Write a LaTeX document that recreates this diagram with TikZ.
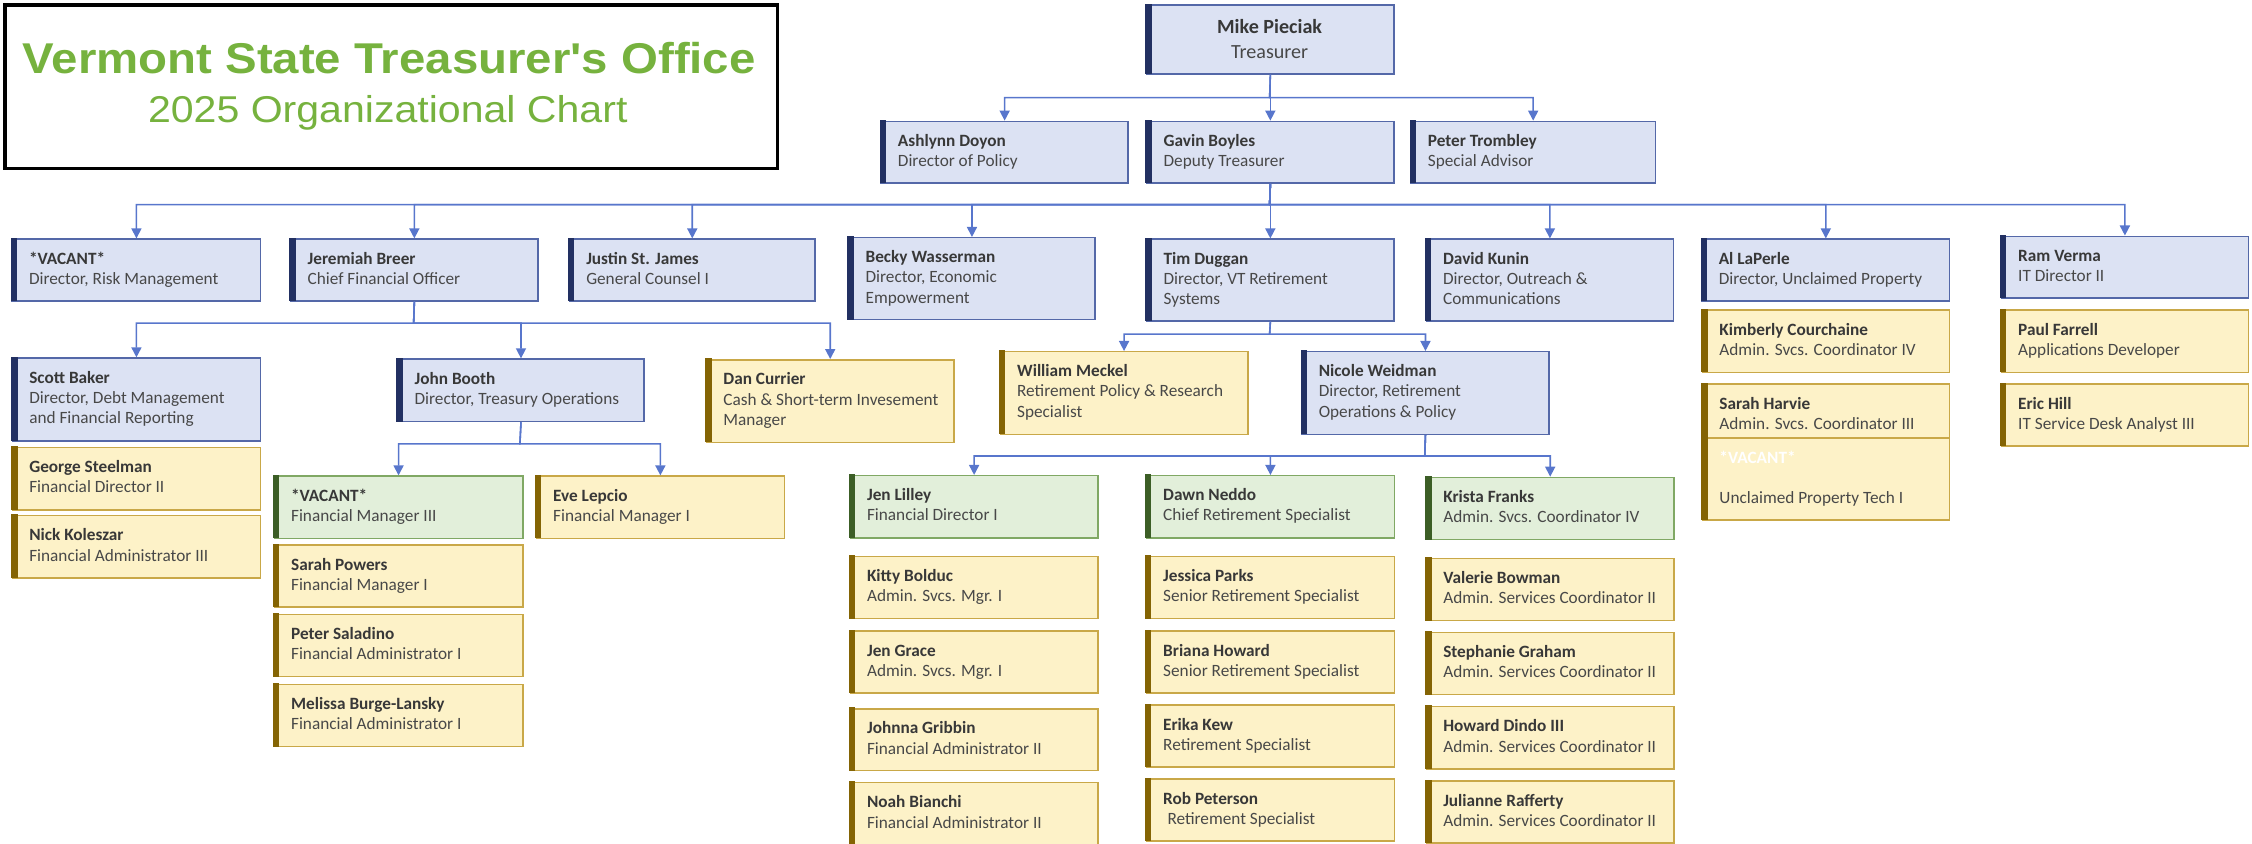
\documentclass[tikz,border=0pt]{standalone}
\usepackage{fontspec}
\setmainfont{Carlito}
\newfontfamily\titlefont{Liberation Sans}
\usetikzlibrary{arrows.meta}
\definecolor{bfill}{RGB}{220,226,243}
\definecolor{bdraw}{RGB}{84,104,168}
\definecolor{bshade}{RGB}{34,48,98}
\definecolor{yfill}{RGB}{253,242,200}
\definecolor{ydraw}{RGB}{201,168,72}
\definecolor{yshade}{RGB}{132,100,4}
\definecolor{gfill}{RGB}{226,239,218}
\definecolor{gdraw}{RGB}{128,168,100}
\definecolor{gshade}{RGB}{60,94,38}
\definecolor{conn}{RGB}{88,118,204}
\definecolor{tgreen}{RGB}{118,178,62}
\definecolor{ntext}{RGB}{56,56,56}
\definecolor{ttext}{RGB}{72,72,72}
\tikzset{
  cn/.style={draw=conn, line width=1.1pt, -{Triangle[width=7pt,length=7pt]}},
  txt/.style={anchor=base west, inner sep=0pt, text=ttext}
}
\newcommand\orgbox[8]{%
  \node[draw=#2draw, fill=#2fill, line width=1pt, inner sep=0pt, anchor=north west,
        minimum width={(#5-#3)*1pt}, minimum height={(#6-#4)*1pt}] (#1) at (#3,#4) {};
  \path[fill=#2shade] ({#3-0.5},{#4-0.5}) rectangle ({#3+4},{#6+0.5});
  \node[txt] (#1t) at ({#3+12},{#4+18}) {\begin{tabular}[t]{@{}l@{}}\textbf{\color{ntext}#7}\\#8\end{tabular}};
}
\begin{document}
\begin{tikzpicture}[x=1pt,y=-1pt,font=\fontsize{12}{14}\selectfont]
\useasboundingbox (0,0) rectangle (1568,586.96);
% title
\node[draw=black, line width=2.6pt, inner sep=0pt, anchor=north west,
      minimum width=538pt, minimum height=114pt] (titlebox) at (2,2) {};
\node[anchor=base, inner sep=0pt, text=tgreen] (t1) at (271,51.5)
  {\scalebox{1.10}[1]{\titlefont\fontsize{30}{30}\selectfont\bfseries Vermont State Treasurer's Office}};
\node[anchor=base, inner sep=0pt, text=tgreen] (t2) at (270,85)
  {\scalebox{1.10}[1]{\titlefont\fontsize{26}{26}\selectfont 2025 Organizational Chart}};
% top
\node[draw=bdraw, fill=bfill, line width=1pt, inner sep=0pt, anchor=north west,
      minimum width=172pt, minimum height=48pt] (mike) at (798,3) {};
\path[fill=bshade] (797.5,2.5) rectangle (802,51.5);
\node[anchor=base, inner sep=0pt, text=ttext] (miket) at (884,23.4)
  {\fontsize{14}{17}\selectfont\begin{tabular}[t]{@{}c@{}}\textbf{\color{ntext}Mike Pieciak}\\Treasurer\end{tabular}};
\orgbox{ashlynn}{b}{613}{84}{785}{127}{Ashlynn Doyon}{Director of Policy}
\orgbox{gavin}{b}{798}{84}{970}{127}{Gavin Boyles}{Deputy Treasurer}
\orgbox{peter}{b}{982}{84}{1152}{127}{Peter Trombley}{Special Advisor}
% row 2
\orgbox{vacrisk}{b}{8}{166}{181}{209}{*VACANT*}{Director, Risk Management}
\orgbox{breer}{b}{202}{166}{374}{209}{Jeremiah Breer}{Chief Financial Officer}
\orgbox{james}{b}{396}{166}{567}{209}{Justin St. James}{General Counsel I}
\orgbox{becky}{b}{590.5}{165}{762}{222}{Becky Wasserman}{Director, Economic\\Empowerment}
\orgbox{tim}{b}{798}{166}{970}{223}{Tim Duggan}{Director, VT Retirement\\Systems}
\orgbox{kunin}{b}{992.6}{166}{1164.7}{223}{David Kunin}{Director, Outreach \&\\Communications}
\orgbox{laperle}{b}{1184.5}{166}{1357}{209}{Al LaPerle}{Director, Unclaimed Property}
\orgbox{verma}{b}{1393}{164}{1565}{207}{Ram Verma}{IT Director II}
% unclaimed / IT
\orgbox{courchaine}{y}{1185}{215.4}{1357}{258.8}{Kimberly Courchaine}{Admin. Svcs. Coordinator IV}
\orgbox{harvie}{y}{1185}{266.9}{1357}{310}{Sarah Harvie}{Admin. Svcs. Coordinator III}
\orgbox{vacup}{y}{1185}{304.5}{1357}{361.6}{\color{white}*VACANT*}{\\Unclaimed Property Tech I}
\orgbox{farrell}{y}{1393}{215.4}{1565}{258.8}{Paul Farrell}{Applications Developer}
\orgbox{hill}{y}{1393}{266.9}{1565}{310}{Eric Hill}{IT Service Desk Analyst III}
% CFO
\orgbox{baker}{b}{8.2}{248.8}{180.8}{306.4}{Scott Baker}{Director, Debt Management\\and Financial Reporting}
\orgbox{steelman}{y}{8.2}{311}{180.8}{354.6}{George Steelman}{Financial Director II}
\orgbox{koleszar}{y}{8.2}{358.6}{180.8}{402}{Nick Koleszar}{Financial Administrator III}
\orgbox{booth}{b}{276.5}{249.5}{448}{293}{John Booth}{Director, Treasury Operations}
\orgbox{currier}{y}{491.5}{250}{663.6}{307.5}{Dan Currier}{Cash \& Short-term Invesement\\Manager}
\orgbox{vacfm}{g}{190.5}{331}{363.5}{374.4}{*VACANT*}{Financial Manager III}
\orgbox{lepcio}{y}{373}{331}{545.6}{374.4}{Eve Lepcio}{Financial Manager I}
\orgbox{powers}{y}{190.5}{379}{363.5}{422.2}{Sarah Powers}{Financial Manager I}
\orgbox{saladino}{y}{190.5}{427.3}{363.5}{470.7}{Peter Saladino}{Financial Administrator I}
\orgbox{burge}{y}{190.5}{476}{363.5}{519.3}{Melissa Burge-Lansky}{Financial Administrator I}
% retirement
\orgbox{meckel}{y}{696}{244.4}{868.3}{302}{William Meckel}{Retirement Policy \& Research\\Specialist}
\orgbox{weidman}{b}{906}{244.4}{1078}{302}{Nicole Weidman}{Director, Retirement\\Operations \& Policy}
\orgbox{lilley}{g}{591.5}{330.7}{764}{374}{Jen Lilley}{Financial Director I}
\orgbox{bolduc}{y}{591.5}{387}{764}{430.3}{Kitty Bolduc}{Admin. Svcs. Mgr. I}
\orgbox{grace}{y}{591.5}{438.9}{764}{482}{Jen Grace}{Admin. Svcs. Mgr. I}
\orgbox{gribbin}{y}{591.5}{493}{764}{536}{Johnna Gribbin}{Financial Administrator II}
\orgbox{bianchi}{y}{591.5}{544.5}{764}{587.8}{Noah Bianchi}{Financial Administrator II}
\orgbox{neddo}{g}{797.7}{330.7}{970.4}{374}{Dawn Neddo}{Chief Retirement Specialist}
\orgbox{parks}{y}{797.7}{387}{970.4}{430.3}{Jessica Parks}{Senior Retirement Specialist}
\orgbox{howard}{y}{797.7}{438.9}{970.4}{482}{Briana Howard}{Senior Retirement Specialist}
\orgbox{kew}{y}{797.7}{490.4}{970.4}{533.6}{Erika Kew}{Retirement Specialist}
\orgbox{peterson}{y}{797.7}{542}{970.4}{585}{Rob Peterson}{\hspace{3pt}Retirement Specialist}
\orgbox{franks}{g}{992.7}{331.9}{1165}{375.3}{Krista Franks}{Admin. Svcs. Coordinator IV}
\orgbox{bowman}{y}{992.7}{388.3}{1165}{431.7}{Valerie Bowman}{Admin. Services Coordinator II}
\orgbox{graham}{y}{992.7}{440}{1165}{483.2}{Stephanie Graham}{Admin. Services Coordinator II}
\orgbox{dindo}{y}{992.7}{491.6}{1165}{535}{Howard Dindo III}{Admin. Services Coordinator II}
\orgbox{rafferty}{y}{992.7}{543.3}{1165}{586.5}{Julianne Rafferty}{Admin. Services Coordinator II}
% connectors
\coordinate (bus1) at (884,68);
\coordinate (bus2) at (884,142.5);
\coordinate (bus3) at (288,225);
\coordinate (bus4) at (362,309);
\coordinate (bus5) at (884,232.6);
\coordinate (bus6) at (992,317.5);
\draw[cn] (mike.south) -- (gavin.north);
\foreach \n in {ashlynn,peter} \draw[cn] (mike.south) -- (bus1) -| (\n.north);
\draw[cn] (gavin.south) -- (tim.north);
\foreach \n in {vacrisk,breer,james,becky,kunin,laperle,verma} \draw[cn] (gavin.south) -- (bus2) -| (\n.north);
\foreach \n in {baker,booth,currier} \draw[cn] (breer.south) -- (bus3) -| (\n.north);
\foreach \n in {vacfm,lepcio} \draw[cn] (booth.south) -- (bus4) -| (\n.north);
\foreach \n in {meckel,weidman} \draw[cn] (tim.south) -- (bus5) -| (\n.north);
\foreach \n in {lilley,neddo,franks} \draw[cn] (weidman.south) -- (bus6) -| (\n.north);
\end{tikzpicture}
\end{document}
